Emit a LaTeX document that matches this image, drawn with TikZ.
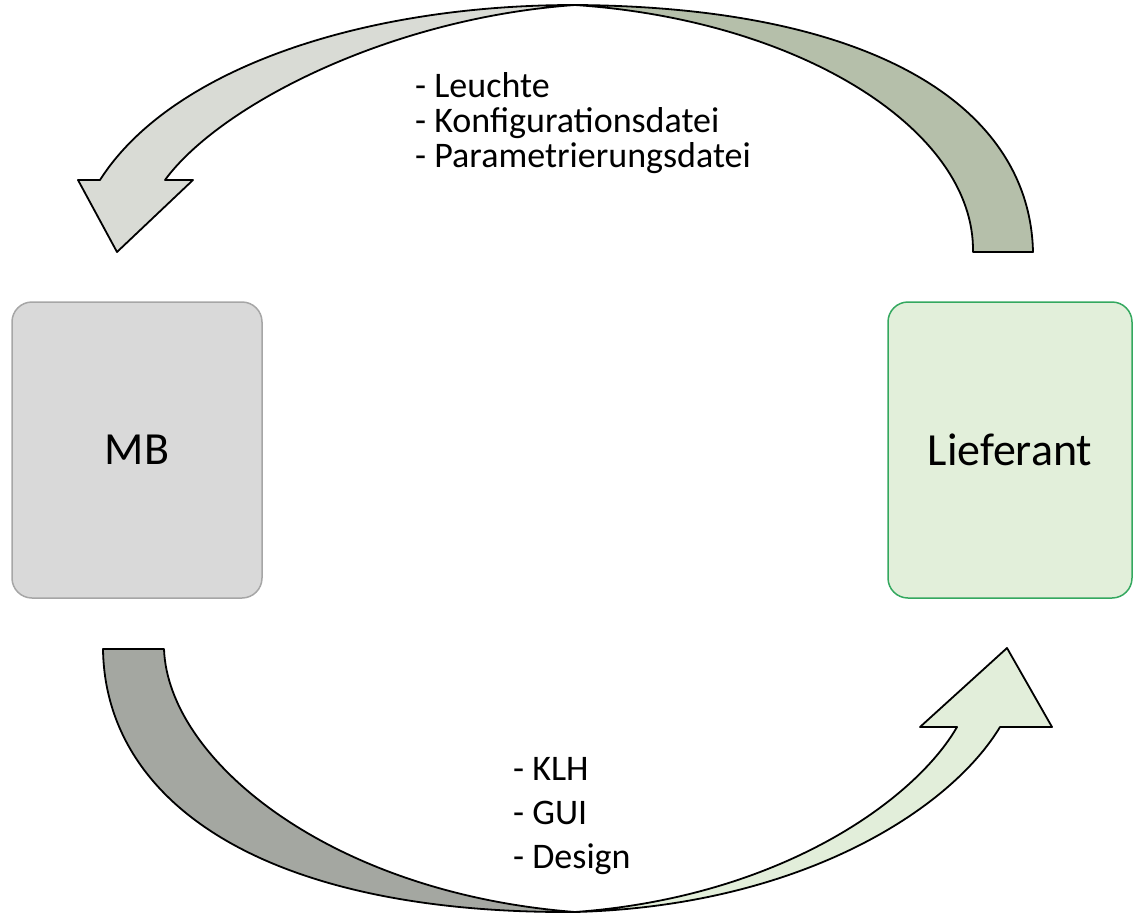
\documentclass[tikz,border=0pt]{standalone}
\usepackage{fontspec}
\setmainfont{Carlito}
\usetikzlibrary{positioning}

\definecolor{mbgray}{RGB}{217,217,217}
\definecolor{mbline}{RGB}{166,166,166}
\definecolor{liefgreen}{RGB}{226,239,218}
\definecolor{liefline}{RGB}{52,168,95}
\definecolor{backgreen}{RGB}{181,191,170}
\definecolor{frontgray}{RGB}{217,219,213}
\definecolor{backgray}{RGB}{164,167,161}
\definecolor{frontgreen}{RGB}{226,238,218}

\begin{document}
\begin{tikzpicture}[x=1pt,y=-1pt]
  \tikzstyle{every node} = [inner sep = 0]
\tikzset{party/.style={draw, line width=1.5pt, rounded corners=20pt,
                       minimum width=250pt, minimum height=296pt,
                       font=\fontsize{46}{52}\selectfont}}
\tikzset{band/.style={draw=black, line width=1.8pt, line join=round}}
\tikzset{items/.style={align=left, anchor=north west}}

\useasboundingbox (0,0) rectangle (1141,913);

\node[party, fill=mbgray, draw=mbline] (mb) at (137,450) {MB};
\node[party, fill=liefgreen, draw=liefline, minimum width=244pt] (lieferant) at (1010,450) {Lieferant};

% Lieferant -> MB
\coordinate (topTailOut) at (1033,252);
\coordinate (topTailIn) at (973,252);
\coordinate (topMeet) at (575,5);
\coordinate (topHeadOut) at (100,180);
\coordinate (topHeadIn) at (165,180);
\coordinate (topTip) at (117,252);
\draw[band, fill=backgreen] (topTailIn) -- (topTailOut)
  .. controls (1030,110) and (880,7) .. (topMeet)
  .. controls (800,20) and (975,130) .. cycle;
\draw[band, fill=frontgray] (topMeet)
  .. controls (360,5) and (170,70) .. (topHeadOut) -- (78,180) -- (topTip)
  -- (193,180) -- (topHeadIn) .. controls (220,105) and (390,18) .. cycle;

% MB -> Lieferant
\coordinate (botTailOut) at (103,649);
\coordinate (botTailIn) at (164,649);
\coordinate (botMeet) at (575,912);
\coordinate (botHeadOut) at (1000,727);
\coordinate (botHeadIn) at (957,727);
\coordinate (botTip) at (1007,648);
\draw[band, fill=backgray] (botTailOut) -- (botTailIn)
  .. controls (168,760) and (330,893) .. (botMeet)
  .. controls (260,914) and (105,800) .. cycle;
\draw[band, fill=frontgreen] (botMeet)
  .. controls (800,906) and (950,810) .. (botHeadOut) -- (1052,727) -- (botTip)
  -- (920,727) -- (botHeadIn) .. controls (915,800) and (780,897) .. cycle;

\node[items, font=\fontsize{36}{35}\selectfont] (topList) at (415,72)
  {- Leuchte\\- Konfigurationsdatei\\- Parametrierungsdatei};
\node[items, font=\fontsize{36}{44}\selectfont] (bottomList) at (513,757)
  {- KLH\\- GUI\\- Design};

\end{tikzpicture}
\end{document}
